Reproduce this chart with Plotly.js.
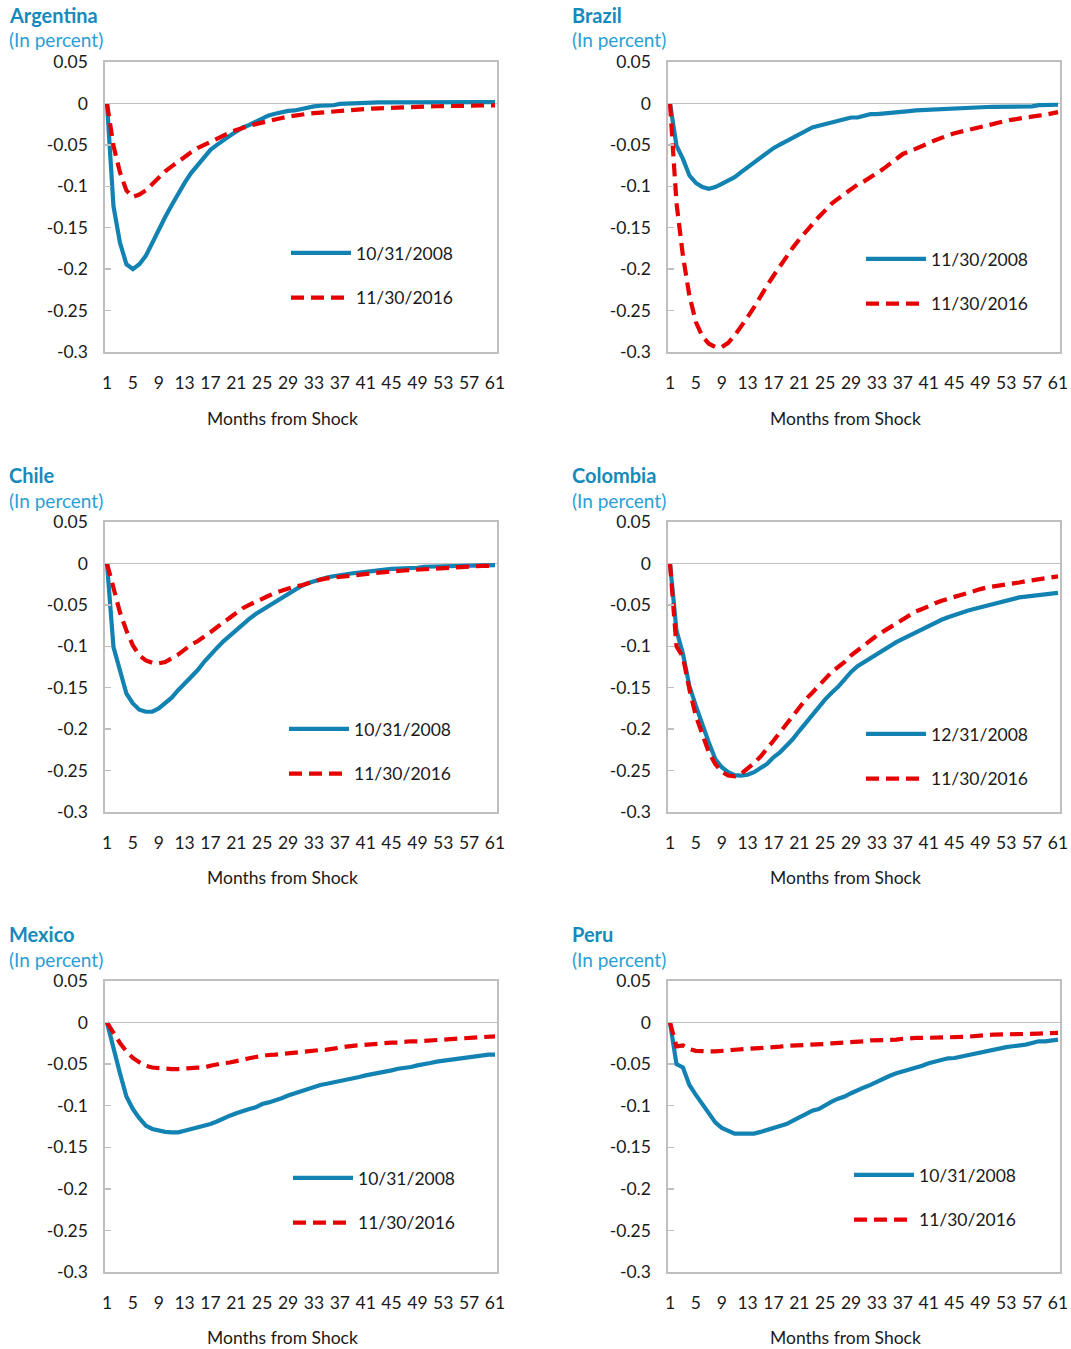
<!DOCTYPE html>
<html><head><meta charset="utf-8">
<script src="https://cdn.plot.ly/plotly-3.0.1.min.js"></script>
<style>html,body{margin:0;padding:0;background:#fff}#chart{width:1071px;height:1349px}</style>
</head><body><div id="chart"></div><script>
// ---------- data ----------
const months = [1,2,3,4,5,6,7,8,9,10,11,12,13,14,15,16,17,18,19,20,21,22,23,24,25,26,27,28,29,30,
  31,32,33,34,35,36,37,38,39,40,41,42,43,44,45,46,47,48,49,50,51,52,53,54,55,56,57,58,59,60,61];
const xTickVals = [1,5,9,13,17,21,25,29,33,37,41,45,49,53,57,61];
const xTickText = ['1','5','9','13','17','21','25','29','33','37','41','45','49','53','57','61'];
const yTickVals = [0.05,0,-0.05,-0.1,-0.15,-0.2,-0.25,-0.3];
const yTickText = ['0.05','0','-0.05','-0.1','-0.15','-0.2','-0.25','-0.3'];

const countries = ['Argentina','Brazil','Chile','Colombia','Mexico','Peru'];
const subtitle = '(In percent)';
const xTitle = 'Months from Shock';
const labelsEarly = ['10/31/2008','11/30/2008','10/31/2008','12/31/2008','10/31/2008','10/31/2008'];
const labelLate = '11/30/2016';

const argentinaEarly = [0,-0.124,-0.168,-0.194,-0.200,-0.194,-0.184,-0.168,-0.152,-0.137,
  -0.123,-0.109,-0.096,-0.084,-0.074,-0.065,-0.056,-0.050,-0.044,-0.039,
  -0.034,-0.029,-0.026,-0.022,-0.019,-0.0145,-0.0125,-0.0105,-0.009,-0.0085,
  -0.0065,-0.005,-0.0036,-0.0028,-0.0024,-0.0022,-0.0005,0,0,0,
  0.001,0.0012,0.0012,0.0012,0.0013,0.0013,0.0013,0.0013,0.0014,0.0014,
  0.0014,0.0014,0.0014,0.0015,0.0015,0.0015,0.0015,0.0015,0.0015,0.0015,0.0015];
const argentinaLate = [0,-0.051,-0.083,-0.105,-0.113,-0.110,-0.105,-0.097,-0.089,-0.082,
  -0.076,-0.070,-0.064,-0.059,-0.054,-0.050,-0.046,-0.042,-0.039,-0.035,
  -0.032,-0.029,-0.027,-0.025,-0.023,-0.0205,-0.019,-0.0175,-0.016,-0.0145,
  -0.0135,-0.0125,-0.0118,-0.011,-0.0102,-0.0095,-0.0088,-0.0082,-0.0076,-0.007,
  -0.0066,-0.0062,-0.0058,-0.0055,-0.0052,-0.005,-0.0047,-0.0045,-0.0043,-0.004,
  -0.0037,-0.0034,-0.0031,-0.003,-0.0028,-0.0027,-0.0026,-0.0025,-0.0025,-0.0024,-0.0024];
const brazilEarly = [0,-0.051,-0.067,-0.087,-0.096,-0.101,-0.103,-0.101,-0.097,-0.093,
  -0.089,-0.083,-0.077,-0.071,-0.065,-0.060,-0.054,-0.0496,-0.0455,-0.0415,
  -0.037,-0.032,-0.029,-0.027,-0.025,-0.023,-0.021,-0.019,-0.017,-0.017,
  -0.015,-0.013,-0.013,-0.012,-0.011,-0.0105,-0.0097,-0.0092,-0.0085,-0.008,
  -0.0076,-0.007,-0.0065,-0.006,-0.0056,-0.0052,-0.0048,-0.0046,-0.0044,-0.0043,
  -0.0042,-0.0041,-0.004,-0.0039,-0.0038,-0.0037,-0.0036,-0.002,-0.0018,-0.0017,-0.0016];
const brazilLate = [0,-0.12,-0.184,-0.232,-0.264,-0.281,-0.290,-0.294,-0.294,-0.289,
  -0.280,-0.270,-0.258,-0.246,-0.232,-0.220,-0.208,-0.196,-0.184,-0.174,
  -0.164,-0.154,-0.146,-0.137,-0.129,-0.121,-0.115,-0.109,-0.103,-0.098,
  -0.094,-0.089,-0.085,-0.079,-0.073,-0.067,-0.061,-0.058,-0.055,-0.051,
  -0.048,-0.0445,-0.041,-0.0385,-0.036,-0.034,-0.032,-0.030,-0.028,-0.026,
  -0.0245,-0.0228,-0.021,-0.0195,-0.018,-0.0168,-0.0157,-0.0147,-0.0137,-0.012,-0.0105];
const chileEarly = [0,-0.101,-0.129,-0.157,-0.169,-0.1765,-0.179,-0.179,-0.175,-0.169,
  -0.162,-0.153,-0.145,-0.136,-0.129,-0.119,-0.110,-0.102,-0.094,-0.087,
  -0.080,-0.073,-0.067,-0.061,-0.056,-0.051,-0.046,-0.041,-0.036,-0.031,
  -0.0275,-0.024,-0.0215,-0.019,-0.017,-0.0155,-0.014,-0.0128,-0.0118,-0.011,
  -0.0099,-0.009,-0.0084,-0.0076,-0.0066,-0.0062,-0.006,-0.0058,-0.0052,-0.004,
  -0.0038,-0.0036,-0.0034,-0.0028,-0.002,-0.002,-0.002,-0.002,-0.002,-0.002,-0.002];
const chileLate = [0,-0.031,-0.059,-0.081,-0.099,-0.111,-0.117,-0.120,-0.1205,-0.119,
  -0.1145,-0.110,-0.104,-0.098,-0.094,-0.089,-0.083,-0.077,-0.071,-0.065,
  -0.059,-0.054,-0.050,-0.046,-0.043,-0.039,-0.0355,-0.0327,-0.030,-0.028,
  -0.0265,-0.024,-0.0215,-0.0195,-0.018,-0.017,-0.016,-0.015,-0.014,-0.013,
  -0.012,-0.0115,-0.011,-0.0105,-0.0095,-0.009,-0.0085,-0.008,-0.0075,-0.007,
  -0.0068,-0.0065,-0.006,-0.0055,-0.004,-0.0035,-0.003,-0.003,-0.003,-0.003,-0.003];
const colombiaEarly = [0,-0.081,-0.109,-0.148,-0.172,-0.196,-0.216,-0.236,-0.246,-0.252,
  -0.2555,-0.256,-0.255,-0.252,-0.2475,-0.242,-0.234,-0.228,-0.220,-0.212,
  -0.202,-0.192,-0.182,-0.174,-0.164,-0.156,-0.149,-0.140,-0.131,-0.124,
  -0.119,-0.115,-0.109,-0.104,-0.100,-0.095,-0.091,-0.087,-0.083,-0.079,
  -0.076,-0.072,-0.068,-0.065,-0.062,-0.059,-0.057,-0.055,-0.053,-0.050,
  -0.048,-0.046,-0.044,-0.043,-0.041,-0.040,-0.039,-0.038,-0.037,-0.036,-0.0355];
const colombiaLate = [0,-0.100,-0.113,-0.152,-0.184,-0.208,-0.228,-0.242,-0.2515,-0.256,
  -0.257,-0.254,-0.248,-0.241,-0.233,-0.224,-0.214,-0.204,-0.194,-0.184,
  -0.174,-0.164,-0.156,-0.148,-0.140,-0.131,-0.125,-0.119,-0.111,-0.105,
  -0.099,-0.092,-0.087,-0.082,-0.077,-0.072,-0.067,-0.062,-0.058,-0.055,
  -0.051,-0.048,-0.045,-0.0425,-0.040,-0.0375,-0.035,-0.033,-0.031,-0.029,
  -0.028,-0.027,-0.0255,-0.024,-0.023,-0.0215,-0.0205,-0.0195,-0.018,-0.017,-0.0157];
const mexicoEarly = [0,-0.033,-0.061,-0.089,-0.104,-0.115,-0.124,-0.128,-0.130,-0.1315,
  -0.132,-0.132,-0.130,-0.128,-0.1267,-0.124,-0.122,-0.119,-0.115,-0.112,
  -0.109,-0.106,-0.104,-0.102,-0.098,-0.096,-0.094,-0.091,-0.0877,-0.085,
  -0.0824,-0.080,-0.0776,-0.075,-0.0736,-0.072,-0.070,-0.0696,-0.0675,-0.0655,
  -0.0635,-0.062,-0.0615,-0.0595,-0.0575,-0.0555,-0.055,-0.0535,-0.0515,-0.0507,
  -0.0487,-0.047,-0.046,-0.0446,-0.0438,-0.042,-0.0414,-0.0406,-0.0398,-0.0386,-0.0386];
const mexicoLate = [0,-0.0125,-0.0245,-0.0346,-0.0426,-0.0478,-0.052,-0.054,-0.0547,-0.056,
  -0.056,-0.056,-0.055,-0.0547,-0.0543,-0.054,-0.052,-0.050,-0.0487,-0.048,
  -0.046,-0.0446,-0.043,-0.0414,-0.040,-0.039,-0.0386,-0.0378,-0.0358,-0.035,
  -0.0346,-0.0338,-0.0334,-0.033,-0.0326,-0.0318,-0.030,-0.029,-0.028,-0.0273,
  -0.0265,-0.0253,-0.0245,-0.0245,-0.0241,-0.024,-0.023,-0.0225,-0.0225,-0.022,
  -0.0215,-0.0213,-0.021,-0.0205,-0.02,-0.019,-0.018,-0.0177,-0.0175,-0.017,-0.0165];
const peruEarly = [0,-0.050,-0.054,-0.075,-0.087,-0.098,-0.109,-0.120,-0.1266,-0.130,
  -0.1335,-0.1335,-0.1335,-0.1335,-0.1315,-0.1295,-0.1275,-0.1245,-0.122,-0.1185,
  -0.114,-0.110,-0.106,-0.104,-0.099,-0.095,-0.0915,-0.089,-0.085,-0.081,
  -0.078,-0.075,-0.071,-0.068,-0.064,-0.061,-0.059,-0.057,-0.055,-0.052,
  -0.049,-0.047,-0.045,-0.043,-0.0426,-0.041,-0.039,-0.0375,-0.035,-0.0334,
  -0.0326,-0.031,-0.0295,-0.0285,-0.028,-0.0265,-0.0245,-0.0225,-0.0225,-0.021,-0.0205];
const peruLate = [0,-0.0286,-0.0276,-0.032,-0.034,-0.0347,-0.0347,-0.0347,-0.0347,-0.0335,
  -0.0327,-0.0323,-0.032,-0.031,-0.0306,-0.030,-0.0294,-0.029,-0.028,-0.0278,
  -0.0278,-0.027,-0.0266,-0.026,-0.0258,-0.025,-0.0246,-0.0242,-0.024,-0.0237,
  -0.0225,-0.0215,-0.0213,-0.0213,-0.0213,-0.0205,-0.0195,-0.0185,-0.0185,-0.0185,
  -0.0185,-0.018,-0.0177,-0.0175,-0.0173,-0.0173,-0.017,-0.0167,-0.0165,-0.015,
  -0.0145,-0.0145,-0.0145,-0.0145,-0.0145,-0.0145,-0.014,-0.0133,-0.013,-0.0125,-0.0125];

const earlySeries = [argentinaEarly, brazilEarly, chileEarly, colombiaEarly, mexicoEarly, peruEarly];
const lateSeries = [argentinaLate, brazilLate, chileLate, colombiaLate, mexicoLate, peruLate];

// ---------- layout / style ----------
const W = 1071, H = 1349;
const FONT = 'Lato, "Open Sans", sans-serif';
const BLUE = '#1282b2', RED = '#e60000';
const TITLE_C = '#168abb', SUB_C = '#2a9fd6', TXT = '#1a1a1a', FRAME = '#bfbfbf';
const px = v => v / W, py = v => 1 - v / H;

const colX = [[105, 497], [668, 1060]];
const rowY = [[62, 352], [522, 812], [981, 1272]];
const titleX = [7, 570];
const titleY = [15, 475, 934];
const xTitleX = [282, 845];
const xTitleY = [418, 878, 1337];
// legend: sample left px, first entry centre px
const legendPos = [[291, 252], [866, 258], [289, 728], [866, 733], [293, 1177], [854, 1174]];

const data = [];
const layout = {
  width: W, height: H, margin: {l: 0, r: 0, t: 0, b: 0},
  paper_bgcolor: '#fff', plot_bgcolor: '#fff',
  font: {family: FONT, size: 17, color: TXT},
  showlegend: true, annotations: []
};

countries.forEach((name, i) => {
  const col = i % 2, row = Math.floor(i / 2);
  const sfx = i === 0 ? '' : String(i + 1);
  const legId = 'legend' + sfx;
  data.push({
    x: months, y: earlySeries[i], type: 'scatter', mode: 'lines',
    name: labelsEarly[i], xaxis: 'x' + sfx, yaxis: 'y' + sfx,
    legend: legId, legendgroup: 'a' + i,
    line: {color: BLUE, width: 4.2}, hoverinfo: 'skip'
  });
  data.push({
    x: months, y: lateSeries[i], type: 'scatter', mode: 'lines',
    name: labelLate, xaxis: 'x' + sfx, yaxis: 'y' + sfx,
    legend: legId, legendgroup: 'b' + i,
    line: {color: RED, width: 4.2, dash: '13px,7px'}, hoverinfo: 'skip'
  });
  layout['xaxis' + sfx] = {
    domain: [px(colX[col][0]), px(colX[col][1])],
    anchor: 'y' + sfx, range: [0.69, 61.31],
    tickmode: 'array', tickvals: xTickVals, ticktext: xTickText,
    ticks: '', showgrid: false, zeroline: false,
    showline: true, linecolor: FRAME, linewidth: 1.6, mirror: true,
    tickfont: {size: 17.5, color: TXT}, ticklabelstandoff: 14, fixedrange: true
  };
  layout['yaxis' + sfx] = {
    domain: [py(rowY[row][1]), py(rowY[row][0])],
    anchor: 'x' + sfx, range: [-0.3, 0.05],
    tickmode: 'array', tickvals: yTickVals, ticktext: yTickText,
    ticks: 'inside', ticklen: 6, tickwidth: 1.5, tickcolor: FRAME,
    showgrid: false, zeroline: true, zerolinecolor: FRAME, zerolinewidth: 1.6,
    showline: true, linecolor: FRAME, linewidth: 1.6, mirror: true,
    tickfont: {size: 17.5, color: TXT}, ticklabelstandoff: 12, fixedrange: true
  };
  layout[legId] = {
    x: px(legendPos[i][0] - 5), y: py(legendPos[i][1] - 17),
    xanchor: 'left', yanchor: 'top', bgcolor: 'rgba(0,0,0,0)',
    borderwidth: 0, itemwidth: 60, tracegroupgap: 19,
    font: {family: FONT, size: 17.5, color: TXT}
  };
  layout.annotations.push({
    text: '<b>' + name + '</b>', xref: 'paper', yref: 'paper',
    x: px(titleX[col]), y: py(titleY[row]), xanchor: 'left', yanchor: 'middle',
    showarrow: false, font: {family: FONT, size: 20, color: TITLE_C}
  });
  layout.annotations.push({
    text: subtitle, xref: 'paper', yref: 'paper',
    x: px(titleX[col]), y: py(titleY[row] + 25), xanchor: 'left', yanchor: 'middle',
    showarrow: false, font: {family: FONT, size: 19, color: SUB_C}
  });
  layout.annotations.push({
    text: xTitle, xref: 'paper', yref: 'paper',
    x: px(xTitleX[col]), y: py(xTitleY[row]), xanchor: 'center', yanchor: 'middle',
    showarrow: false, font: {family: FONT, size: 17.5, color: TXT}
  });
});

Plotly.newPlot('chart', data, layout, {staticPlot: true, displayModeBar: false});
</script></body></html>
